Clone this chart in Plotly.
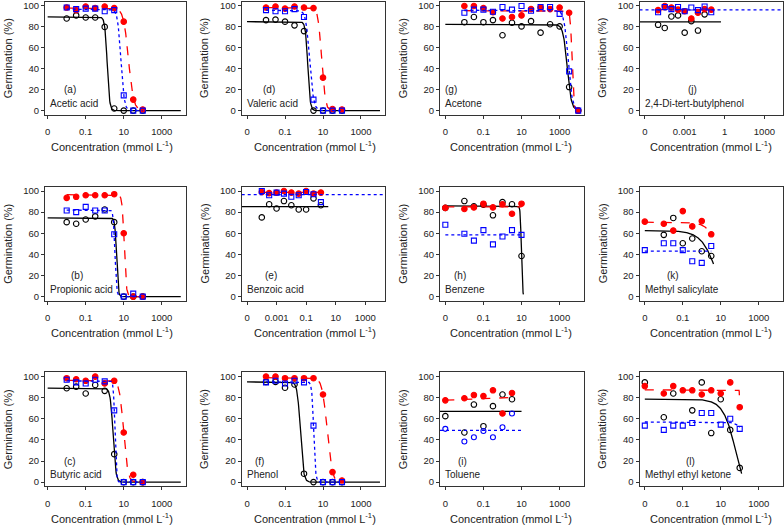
import numpy as np
import plotly.graph_objects as go

W, H = 784, 525
FONT = "Liberation Sans, Arial, sans-serif"
TXT = "#222222"

# ---------------- concentrations (mmol/L); control plotted at the "0" tick ----------------
conc_acid = [0.01, 0.0316, 0.1, 0.316, 1, 3.16, 10, 31.6, 100]
conc_acetone = [0.01, 0.0316, 0.1, 0.316, 1, 3.16, 10, 31.6, 100, 316, 1000, 3160, 9500]
conc_dtbp = [1e-5, 3.16e-5, 1e-4, 3.16e-4, 1e-3, 3.16e-3, 0.01, 0.0316, 0.1]
conc_benzoic = [1e-4, 3.16e-4, 1e-3, 3.16e-3, 0.01, 0.0316, 0.1, 0.316, 1]
conc_benzene = [0.001, 0.01, 0.0316, 0.1, 0.316, 1, 3.16, 10]
conc_salicylate = [0.001, 0.01, 0.0316, 0.1, 0.316, 1, 3.16]
conc_toluene = [0.001, 0.01, 0.0316, 0.1, 0.316, 1, 3.16]
conc_mek = [0.001, 0.01, 0.0316, 0.1, 0.316, 1, 3.16, 10, 31.6, 100]

# ---------------- germination (%) : black = open circles, red = filled, blue = open squares ----------------
a_black = [88, 91, 89, 89, 80, 2, 0, 0, 0]
a_red = [98.5, 96, 99.5, 98, 99.5, 98, 85, 10.5, 1]
a_blue = [98.5, 97, 97.5, 97.5, 95, 96, 14.5, 0, 0]

b_black = [70.5, 69, 73, 76, 82.5, 70.5, 0, 0, 0]
b_red = [93.5, 94.5, 96, 96, 96, 97, 60, 0, 0]
b_blue = [81.5, 80, 85, 81.5, 81.5, 59, 0, 2.8, 0]

c_black = [89, 90.5, 84, 92, 86.5, 26.5, 0, 0, 0]
c_red = [98.5, 97.5, 96, 100, 93.5, 96, 47, 7, 0]
c_blue = [97, 94.5, 93.5, 97, 95.5, 68, 0, 0, 0]

d_black = [86.5, 87, 85, 81.5, 76, 0, 0, 0, 0]
d_red = [98.5, 99.5, 97.5, 99.5, 98.5, 98, 31.5, 1.5, 1]
d_blue = [96, 95, 95, 97, 89.5, 10.5, 0, 0, 0]

e_black = [75, 87.5, 83.5, 90.5, 86.5, 82.5, 82.5, 93, 86.5]
e_red = [99, 98, 98.5, 100, 98.5, 97.5, 100, 97.5, 98.5]
e_blue = [100, 96, 98.5, 97.5, 94.5, 96, 99, 97, 89.5]

f_black = [95, 95, 89.5, 92.5, 8, 0, 0, 0, 0]
f_red = [100, 100, 98.5, 98.5, 98.5, 98.5, 83, 9.5, 1.5]
f_blue = [94.5, 96, 93.5, 96, 94.5, 53.5, 0, 0, 0]

g_black = [84.5, 89.5, 84.5, 86.5, 72, 84, 80.5, 85.5, 74.5, 82.5, 80.5, 22.5, 0]
g_red = [100, 100, 98, 94, 88, 89.5, 91, 97, 98.5, 97, 98.5, 93.5, 0]
g_blue = [93.5, 96.5, 96.5, 94.5, 99, 96.5, 100, 95.5, 99, 99, 92.5, 37.5, 0]

h_black = [84, 90.5, 85.5, 87, 77, 89.5, 87.5, 38.5]
h_red = [84, 83, 84.5, 88, 84.5, 87.5, 78.5, 88]
h_blue = [68, 59.5, 53, 63, 49.5, 57, 63, 58.5]

i_black = [62.5, 47, 73.5, 53, 72, 83, 78.5]
i_red = [77.5, 79.5, 82.5, 81.5, 87, 65, 84.5]
i_blue = [50.5, 38.5, 42.5, 48.5, 42.5, 52, 65]

j_black = [82, 79, 90, 91, 74.5, 85.5, 76.5, 92, None]
j_red = [96, 100, 98.5, 96.5, 95, 88, 93.5, 97, 96.5]
j_blue = [94, 99, 97, 99, 95, 98.5, 96, 99.5, 94]

k_black = [None, 58.5, 74.5, 50.5, 55, 43, 38.5]
k_red = [71, 69, 62.5, 81, 66.5, 71.5, 59]
k_blue = [44, 50.5, 50.5, 44, 33.5, 32, 48]

l_black = [94.5, 61.5, 84, None, 68, 94.5, 46.5, 78.5, 49.5, 13.5]
l_red = [91, 84, 91, 87, 87, 83, 87, 84, 94.5, 71]
l_blue = [53.5, 49.5, 53.5, 53.5, 56, 65.5, 65.5, 54.5, 60, 50.5]

# ---------------- fitted curves: (model, p1, p2, p3, log10 x start, log10 x end) ----------------
# ll: d/(1+10^(b(logx-e)));  w1: d*exp(-exp(b(logx-e)));  flat: d;  seg: p1 -> p2 straight
a_fits = dict(black=("ll", 89.5, 7, 0.13, -3, 4), red=("ll", 98, 3.3, 1.25, -2, 2), blue=("ll", 97, 5, 0.85, -2, 2))
b_fits = dict(black=("ll", 74.5, 10, 0.62, -3, 4), red=("ll", 96.5, 8, 1.026, -2, 2), blue=("ll", 82, 10, 0.54, -2, 2))
c_fits = dict(black=("ll", 89, 6, 0.44, -3, 4), red=("ll", 96.5, 4, 0.99, -2, 2), blue=("ll", 96, 12, 0.532, -2, 2))
d_fits = dict(black=("ll", 85, 7, 0.2, -3, 4), red=("ll", 98.5, 4.66, 0.93, -2, 2), blue=("ll", 96, 4.3, 0.3, -2, 2))
e_fits = dict(black=("flat", 85.2, 0, 0, -5.36, 0.5), red=("flat", 98.7, 0, 0, -4, 0), blue=("flat", 96.5, 0, 0, -5.36, 4.36))
f_fits = dict(black=("ll", 95, 5.3, -0.19, -3, 4), red=("ll", 99, 3.4, 1.21, -2, 2), blue=("ll", 95, 9, 0.511, -2, 2))
g_fits = dict(black=("ll", 82.5, 4, 3.4, -3, 4), red=("ll", 95.5, 10, 3.65, -2, 4), blue=("ll", 96, 4, 3.45, -2, 4))
h_fits = dict(black=("ll", 86, 15, 0.993, -3, 1.1), red=("flat", 85, 0, 0, -3, 1), blue=("flat", 58.5, 0, 0, -3, 1))
i_fits = dict(black=("flat", 67, 0, 0, -3.28, 1), red=("seg", 77.7, 80.2, 0, -3, 0.55), blue=("flat", 49, 0, 0, -3.28, 1))
j_fits = dict(black=("flat", 84.8, 0, 0, -6.4, -0.27), red=("flat", 96.5, 0, 0, -5, -1), blue=("flat", 96.2, 0, 0, -6.4, 4.4))
k_fits = dict(black=("w1", 62.5, 2.2, 0.78, -3, 0.62), red=("ll", 70.5, 1.4, 1.0, -3, 0.5), blue=("flat", 43, 0, 0, -3, 0.5))
l_fits = dict(black=("w1", 78.6, 2.65, 1.79, -3, 2.1), red=("ll", 87.5, 40, 2.016, -3, 2), blue=("ll", 57, 2, 2.5, -3, 2))

# ---------------- axis tick labels ----------------
std_tickvals = [0.001, 0.1, 10, 1000]
std_ticktext = ["0", "0.1", "10", "1000"]
benzoic_tickvals = [1e-5, 0.001, 0.1, 10, 1000]
benzoic_ticktext = ["0", "0.001", "0.1", "10", "1000"]
dtbp_tickvals = [1e-6, 0.001, 1, 1000]
dtbp_ticktext = ["0", "0.001", "1", "1000"]
y_tickvals = [0, 20, 40, 60, 80, 100]

# ---------------- layout geometry (pixels) ----------------
col_left = [45, 241.7, 440, 639.5]
col_right = [186.3, 385.3, 584, 783]
col_title_shift = [-4, 1.5, -1, 0]
row_top = [0.8, 186.5, 372.8]
row_bot = [114.2, 301, 487.2]

panels = [
    ("a", 0, 0, conc_acid, a_black, a_red, a_blue, a_fits, "Acetic acid", [-3.14, 4.29], std_tickvals, std_ticktext, 70),
    ("b", 0, 1, conc_acid, b_black, b_red, b_blue, b_fits, "Propionic acid", [-3.14, 4.29], std_tickvals, std_ticktext, 77),
    ("c", 0, 2, conc_acid, c_black, c_red, c_blue, c_fits, "Butyric acid", [-3.14, 4.29], std_tickvals, std_ticktext, 70),
    ("d", 1, 0, conc_acid, d_black, d_red, d_blue, d_fits, "Valeric acid", [-3.28, 4.28], std_tickvals, std_ticktext, 269),
    ("e", 1, 1, conc_benzoic, e_black, e_red, e_blue, e_fits, "Benzoic acid", [-5.36, 4.36], benzoic_tickvals, benzoic_ticktext, 271),
    ("f", 1, 2, conc_acid, f_black, f_red, f_blue, f_fits, "Phenol", [-3.28, 4.28], std_tickvals, std_ticktext, 259),
    ("g", 2, 0, conc_acetone, g_black, g_red, g_blue, g_fits, "Acetone", [-3.28, 4.28], std_tickvals, std_ticktext, 451),
    ("h", 2, 1, conc_benzene, h_black, h_red, h_blue, h_fits, "Benzene", [-3.28, 4.28], std_tickvals, std_ticktext, 460),
    ("i", 2, 2, conc_toluene, i_black, i_red, i_blue, i_fits, "Toluene", [-3.28, 4.28], std_tickvals, std_ticktext, 463),
    ("j", 3, 0, conc_dtbp, j_black, j_red, j_blue, j_fits, "2,4-Di-tert-butylphenol", [-6.4, 4.4], dtbp_tickvals, dtbp_ticktext, 692),
    ("k", 3, 1, conc_salicylate, k_black, k_red, k_blue, k_fits, "Methyl salicylate", [-3.28, 4.28], std_tickvals, std_ticktext, 673),
    ("l", 3, 2, conc_mek, l_black, l_red, l_blue, l_fits, "Methyl ethyl ketone", [-3.28, 4.28], std_tickvals, std_ticktext, 690),
]

styles = {
    "black": dict(color="#000000", dash="solid", symbol="circle-open", size=5.5),
    "red": dict(color="#FF0000", dash="dash", symbol="circle", size=5.5),
    "blue": dict(color="#0000FF", dash="dot", symbol="square-open", size=5),
}


def curve(spec):
    model, p1, p2, p3, l0, l1 = spec
    L = np.linspace(l0, l1, 400)
    if model == "ll":
        y = p1 / (1 + 10 ** (p2 * (L - p3)))
    elif model == "w1":
        y = p1 * np.exp(-np.exp(p2 * (L - p3)))
    elif model == "flat":
        y = np.full_like(L, p1)
    else:  # seg
        L = np.array([l0, l1])
        y = np.array([p1, p2])
    return 10 ** L, y


def px(x):
    return x / W


def py(y):
    return 1 - y / H


fig = go.Figure()
annotations = []

for n, (key, col, row, conc, blk, red, blu, fits, name, xr, tv, tt, tagx) in enumerate(panels, start=1):
    xa = "x" if n == 1 else f"x{n}"
    ya = "y" if n == 1 else f"y{n}"
    series = {"black": blk, "red": red, "blue": blu}
    for s in ["black", "red", "blue"]:
        st = styles[s]
        cx, cy = curve(fits[s])
        fig.add_trace(go.Scatter(x=cx, y=cy, mode="lines", xaxis=xa, yaxis=ya,
                                 line=dict(color=st["color"], width=1.3, dash=st["dash"]),
                                 hoverinfo="skip", showlegend=False, cliponaxis=True))
        sym = st["symbol"]
        if key == "i" and s == "blue":
            sym = "circle-open"
        fig.add_trace(go.Scatter(x=conc, y=series[s], mode="markers", xaxis=xa, yaxis=ya,
                                 marker=dict(symbol=sym, size=st["size"], color=st["color"],
                                             line=dict(color=st["color"], width=1.1)),
                                 showlegend=False, cliponaxis=False))

    l, r = col_left[col], col_right[col]
    t, b = row_top[row], row_bot[row]
    axis_common = dict(showline=True, mirror=True, linecolor="#333333", linewidth=1,
                       showgrid=False, zeroline=False, ticks="outside", ticklen=3,
                       tickcolor="#333333", tickwidth=1,
                       tickfont=dict(family=FONT, size=9.5, color=TXT))
    fig.update_layout(**{
        ("xaxis" if n == 1 else f"xaxis{n}"): dict(
            domain=[px(l), px(r)], anchor=ya, type="log", range=xr,
            tickvals=tv, ticktext=tt, ticklabelstandoff=5, **axis_common),
        ("yaxis" if n == 1 else f"yaxis{n}"): dict(
            domain=[py(b), py(t)], anchor=xa, range=[-4, 104],
            tickvals=y_tickvals, **axis_common),
    })

    # axis titles
    annotations.append(dict(x=px((l + r) / 2 + col_title_shift[col]), y=py(b + 31.5),
                            xref="paper", yref="paper",
                            text="Concentration (mmol L<sup>-1</sup>)", showarrow=False,
                            xanchor="center", yanchor="middle",
                            font=dict(family=FONT, size=11, color=TXT)))
    annotations.append(dict(x=px(l - 37), y=py((t + b) / 2), xref="paper", yref="paper",
                            text="Germination (%)", showarrow=False, textangle=-90,
                            xanchor="center", yanchor="middle",
                            font=dict(family=FONT, size=11, color=TXT)))
    # panel tag + compound name
    annotations.append(dict(x=px(tagx), y=py(b - 25), xref="paper", yref="paper",
                            text=f"({key})", showarrow=False, xanchor="center", yanchor="middle",
                            font=dict(family=FONT, size=10, color=TXT)))
    annotations.append(dict(x=px(l + 3), y=py(b - 11.5), xref="paper", yref="paper",
                            text=name, showarrow=False, xanchor="left", yanchor="middle",
                            font=dict(family=FONT, size=10, color=TXT)))

fig.update_layout(width=W, height=H, margin=dict(l=0, r=0, t=0, b=0),
                  paper_bgcolor="white", plot_bgcolor="white",
                  annotations=annotations, font=dict(family=FONT, color=TXT))

fig.write_html("out.html", config={"displayModeBar": False},
               post_script="document.body.style.margin='0';document.body.style.padding='0';")
